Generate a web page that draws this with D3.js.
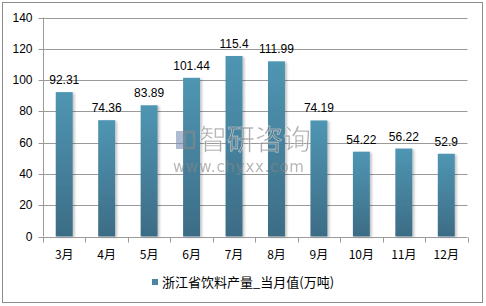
<!DOCTYPE html>
<html><head><meta charset="utf-8">
<script src="https://cdn.jsdelivr.net/npm/d3@7/dist/d3.min.js"></script>
<style>body{margin:0;background:#fff}svg{display:block}</style>
</head><body><svg id="c" width="486" height="306"></svg>
<script>
const categories = ["3月","4月","5月","6月","7月","8月","9月","10月","11月","12月"];
const values = [92.31,74.36,83.89,101.44,115.4,111.99,74.19,54.22,56.22,52.9];
const labels = ["92.31","74.36","83.89","101.44","115.4","111.99","74.19","54.22","56.22","52.9"];
const yTicks = [0,20,40,60,80,100,120,140];
const seriesName = "浙江省饮料产量_当月值(万吨)";

const svg = d3.select("#c");
const font = "'Liberation Sans', Arial, sans-serif";
const cjk = "'Noto Sans CJK SC', 'Liberation Sans', sans-serif";

svg.append("rect").attr("x",2.5).attr("y",2.5).attr("width",480).attr("height",300)
  .attr("fill","#fff").attr("stroke","#8c8c8c").attr("stroke-width",1);

const defs = svg.append("defs");
const g = defs.append("linearGradient").attr("id","bg").attr("x1",0).attr("y1",0).attr("x2",0).attr("y2",1);
g.append("stop").attr("offset","0%").attr("stop-color","#4f96b3");
g.append("stop").attr("offset","100%").attr("stop-color","#3d6c85");
const f = defs.append("filter").attr("id","sh").attr("x","-30%").attr("y","-10%").attr("width","160%").attr("height","130%");
f.append("feDropShadow").attr("dx",2).attr("dy",1).attr("stdDeviation",1.2).attr("flood-color","#000").attr("flood-opacity",0.22);

const x = d3.scaleBand().domain(categories).range([43,467.5]).paddingInner(0.6).paddingOuter(0.3);
const y = d3.scaleLinear().domain([0,140]).range([236.5,17.5]);

// gridlines
svg.append("g").selectAll("line").data(yTicks.filter(d=>d>0)).join("line")
  .attr("x1",43).attr("x2",467.5).attr("y1",d=>Math.round(y(d))+0.5).attr("y2",d=>Math.round(y(d))+0.5)
  .attr("stroke","#9a9a9a").attr("stroke-width",1);

// y axis
const ya = svg.append("g").attr("transform","translate(43.5,0)")
  .call(d3.axisLeft(y).tickValues(yTicks).tickSize(5).tickPadding(6));
ya.select(".domain").attr("stroke","#9a9a9a").attr("d","M0,"+y(140)+"V"+y(0));
ya.selectAll(".tick line").attr("stroke","#9a9a9a");
ya.selectAll(".tick").attr("transform",d=>"translate(0,"+(Math.round(y(d))+0.5)+")");
ya.selectAll("text").attr("font-family",font).attr("font-size",12).attr("fill","#000");

// bars
svg.append("g").selectAll("rect").data(values).join("rect")
  .attr("x",(d,i)=>x(categories[i])).attr("width",x.bandwidth())
  .attr("y",d=>y(d)).attr("height",d=>y(0)-y(d))
  .attr("fill","url(#bg)").attr("filter","url(#sh)");

// x axis
const step = (467.5-43)/categories.length;
const xa = svg.append("g").attr("transform","translate(0,"+(Math.round(y(0))+0.5)+")");
xa.append("line").attr("x1",43).attr("x2",467.5).attr("stroke","#9a9a9a");
xa.selectAll("line.t").data(d3.range(categories.length+1)).join("line").attr("class","t")
  .attr("x1",i=>Math.round(43+i*step)+0.5).attr("x2",i=>Math.round(43+i*step)+0.5)
  .attr("y1",0).attr("y2",5).attr("stroke","#9a9a9a");
xa.selectAll("text").data(categories).join("text")
  .attr("x",d=>x(d)+x.bandwidth()/2).attr("y",21)
  .attr("text-anchor","middle").attr("font-family",cjk).attr("font-size",12).attr("fill","#000").text(d=>d);

// value labels
svg.append("g").selectAll("text").data(values).join("text")
  .attr("x",(d,i)=>x(categories[i])+x.bandwidth()/2).attr("y",d=>y(d)-8)
  .attr("text-anchor","middle").attr("font-family",font).attr("font-size",12).attr("fill","#000")
  .text((d,i)=>labels[i]);

// watermark
const wm = svg.append("g").attr("opacity",0.6);
wm.append("rect").attr("x",176).attr("y",131).attr("width",7).attr("height",18).attr("fill","#7a8fb5");
wm.append("rect").attr("x",185).attr("y",132).attr("width",9).attr("height",16).attr("fill","none").attr("stroke","#8a8a8a").attr("stroke-width",2.5);
wm.append("text").attr("x",199).attr("y",150).attr("font-family",cjk).attr("font-size",28)
  .attr("fill","#7a7a7a").attr("stroke","#fff").attr("stroke-width",0.6).text("智研咨询");
wm.append("text").attr("x",173).attr("y",172).attr("font-family","'DejaVu Sans', sans-serif").attr("font-size",15).attr("letter-spacing",0.8).attr("fill","#888").text("www.chyxx.com");

// legend
svg.append("rect").attr("x",152).attr("y",279).attr("width",6).attr("height",6).attr("fill","#4a86a2");
svg.append("text").attr("x",162).attr("y",286.5).attr("font-family",cjk).attr("font-size",13).attr("fill","#000").text(seriesName);
</script></body></html>
